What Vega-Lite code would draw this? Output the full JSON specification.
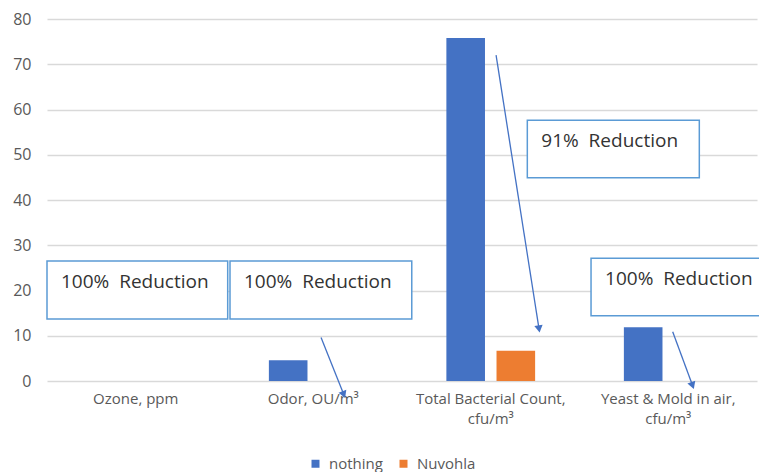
{
  "$schema": "https://vega.github.io/schema/vega-lite/v6.json",
  "width": 710,
  "height": 362,
  "autosize": {"type": "none"},
  "padding": {"left": 47, "top": 19, "right": 2, "bottom": 91},
  "background": "white",
  "config": {
    "font": "Open Sans",
    "view": {"stroke": null},
    "axis": {"labelFont": "Open Sans", "labelColor": "#595959", "labelFontSize": 15}
  },
  "datasets": {
    "bars": [
      {"category": "Ozone, ppm", "series": "nothing", "value": 0},
      {"category": "Ozone, ppm", "series": "Nuvohla", "value": 0},
      {"category": "Odor, OU/m³", "series": "nothing", "value": 4.6},
      {"category": "Odor, OU/m³", "series": "Nuvohla", "value": 0},
      {"category": "Total Bacterial Count,|cfu/m³", "series": "nothing", "value": 75.8},
      {"category": "Total Bacterial Count,|cfu/m³", "series": "Nuvohla", "value": 6.7},
      {"category": "Yeast & Mold in air,|cfu/m³", "series": "nothing", "value": 11.9},
      {"category": "Yeast & Mold in air,|cfu/m³", "series": "Nuvohla", "value": 0}
    ],
    "boxes": [
      {"label": "100%\u00a0 Reduction", "x": 0.0, "x2": 1.018, "y": 13.7, "y2": 26.5},
      {"label": "100%\u00a0 Reduction", "x": 1.031, "x2": 2.055, "y": 13.7, "y2": 26.5},
      {"label": "91%\u00a0 Reduction", "x": 2.706, "x2": 3.675, "y": 44.9, "y2": 57.6},
      {"label": "100%\u00a0 Reduction", "x": 3.065, "x2": 4.1, "y": 14.4, "y2": 27.1}
    ],
    "arrows": [
      {"x": 1.544, "y": 9.6, "x2": 1.672, "y2": -3.0, "angle": 338},
      {"x": 2.530, "y": 72.0, "x2": 2.772, "y2": 11.5, "angle": 351},
      {"x": 3.525, "y": 10.9, "x2": 3.637, "y2": -1.0, "angle": 340}
    ]
  },
  "layer": [
    {
      "data": {"name": "bars"},
      "mark": {"type": "bar"},
      "encoding": {
        "x": {
          "field": "category", "type": "nominal", "sort": null,
          "scale": {"paddingInner": 0.5, "paddingOuter": 0.25},
          "axis": {"title": null, "labelAngle": 0, "ticks": false, "domain": false,
                   "labelPadding": 10, "labelLineHeight": 20,
                   "labelExpr": "split(datum.label, '|')"}
        },
        "xOffset": {"field": "series", "type": "nominal", "sort": ["nothing", "Nuvohla"],
                    "scale": {"paddingInner": 0.23, "paddingOuter": 0}},
        "y": {
          "field": "value", "type": "quantitative",
          "scale": {"domain": [0, 80], "nice": false},
          "axis": {"title": null, "tickCount": 9, "ticks": false, "domain": false,
                   "labelPadding": 16, "labelFontSize": 16, "gridColor": "#D9D9D9", "gridWidth": 1.3}
        },
        "color": {
          "field": "series", "type": "nominal", "sort": ["nothing", "Nuvohla"],
          "scale": {"domain": ["nothing", "Nuvohla"], "range": ["#4472C4", "#ED7D31"]},
          "legend": {"title": null, "orient": "none", "legendX": 261, "legendY": 437,
                     "direction": "horizontal",
                     "symbolType": "square", "symbolSize": 64, "symbolStrokeWidth": 0,
                     "labelFontSize": 15, "labelColor": "#595959", "labelFont": "Open Sans",
                     "columnPadding": 13, "labelOffset": 6}
        }
      }
    },
    {
      "data": {"name": "boxes"},
      "mark": {"type": "rect", "fill": "white", "stroke": "#5B9BD5", "strokeWidth": 1.5},
      "encoding": {
        "x": {"field": "x", "type": "quantitative", "scale": {"domain": [0, 4], "nice": false, "zero": false}, "axis": null},
        "x2": {"field": "x2"},
        "y": {"field": "y", "type": "quantitative", "title": null},
        "y2": {"field": "y2"}
      }
    },
    {
      "data": {"name": "boxes"},
      "mark": {"type": "text", "align": "left", "baseline": "middle", "dx": 14, "dy": 21,
               "fontSize": 19, "font": "Open Sans", "color": "#333333"},
      "encoding": {
        "x": {"field": "x", "type": "quantitative", "scale": {"domain": [0, 4], "nice": false, "zero": false}, "axis": null},
        "y": {"field": "y2", "type": "quantitative", "title": null},
        "text": {"field": "label"}
      }
    },
    {
      "data": {"name": "arrows"},
      "mark": {"type": "rule", "color": "#4472C4", "strokeWidth": 1.3},
      "encoding": {
        "x": {"field": "x", "type": "quantitative", "scale": {"domain": [0, 4], "nice": false, "zero": false}, "axis": null},
        "y": {"field": "y", "type": "quantitative", "title": null},
        "x2": {"field": "x2"},
        "y2": {"field": "y2"}
      }
    },
    {
      "data": {"name": "arrows"},
      "mark": {"type": "point", "shape": "triangle-down", "filled": true, "color": "#4472C4", "size": 70, "opacity": 1},
      "encoding": {
        "x": {"field": "x2", "type": "quantitative", "scale": {"domain": [0, 4], "nice": false, "zero": false}, "axis": null},
        "y": {"field": "y2", "type": "quantitative", "title": null},
        "angle": {"field": "angle", "type": "quantitative", "scale": null}
      }
    }
  ],
  "resolve": {"scale": {"x": "independent"}}
}
